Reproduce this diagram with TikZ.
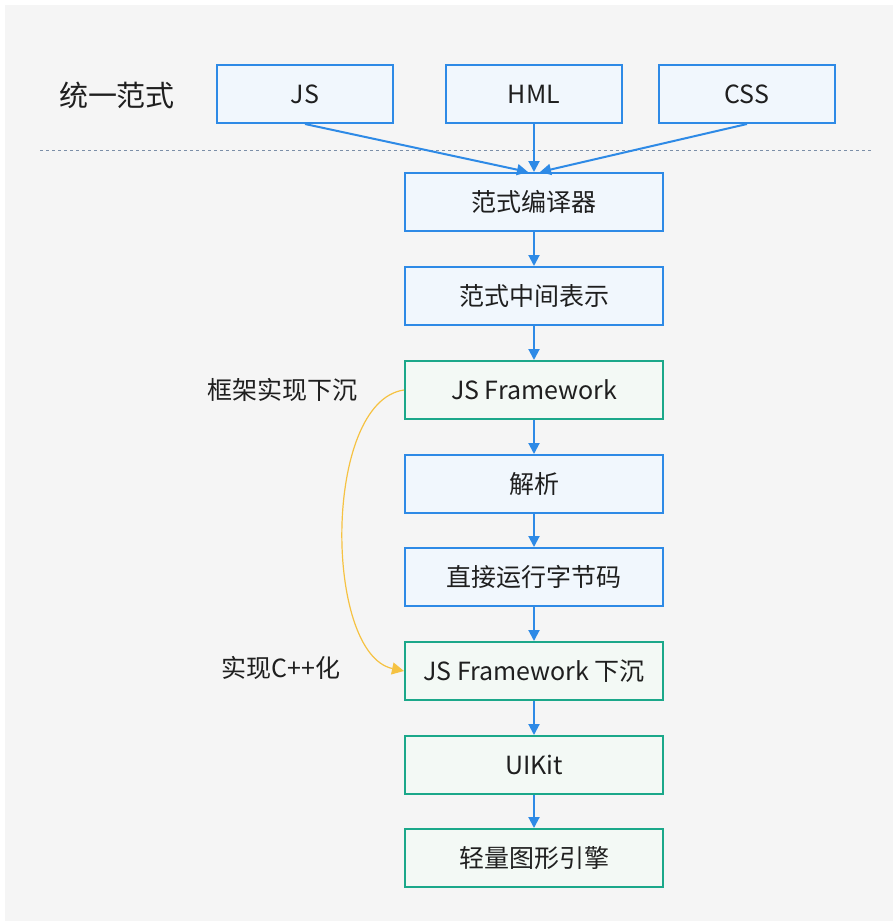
\documentclass[tikz,border=0pt]{standalone}
\usepackage{fontspec}
\setmainfont{Noto Sans CJK SC}
\usepackage{xcolor}
\usetikzlibrary{arrows.meta}
\definecolor{bgray}{HTML}{F5F5F5}
\definecolor{bline}{HTML}{2E8AE6}
\definecolor{bfill}{HTML}{F1F7FD}
\definecolor{gline}{HTML}{1BA88A}
\definecolor{gfill}{HTML}{F3F9F5}
\definecolor{curve}{HTML}{F5C242}
\definecolor{dline}{HTML}{7C8FA8}
\definecolor{txt}{HTML}{1F1F1F}

\begin{document}
\begin{tikzpicture}[x=1pt,y=-1pt,
    bluebox/.style={draw=bline,fill=bfill,line width=2pt,minimum width=258pt,minimum height=58pt,text=txt,font=\fontsize{25}{29}\selectfont},
    greenbox/.style={bluebox,draw=gline,fill=gfill},
    srcbox/.style={bluebox,minimum width=176pt},
    flow/.style={draw=bline,line width=2pt,-{Triangle[length=11pt,width=11pt]}},
    lbl/.style={text=txt,font=\fontsize{25}{29}\selectfont}]
    \useasboundingbox (0,0) rectangle (893,922);
    \fill[bgray] (5,5) rectangle (893,921);
    % top row
    \node[lbl,font=\fontsize{29}{33}\selectfont] (unify) at (117,95) {统一范式};
    \node[srcbox] (js) at (305,94) {JS};
    \node[srcbox] (hml) at (534,94) {HML};
    \node[srcbox] (css) at (747,94) {CSS};
    \draw[dline,line width=1pt,dash pattern=on 3pt off 3pt] (40,150) -- (872,150);
    % main column
    \node[bluebox] (comp) at (534,202) {范式编译器};
    \node[bluebox] (ir) at (534,296) {范式中间表示};
    \node[greenbox] (jsf) at (534,390) {JS Framework};
    \node[bluebox] (parse) at (534,484) {解析};
    \node[bluebox] (run) at (534,577) {直接运行字节码};
    \node[greenbox] (jsfd) at (534,671) {JS Framework 下沉};
    \node[greenbox] (uikit) at (534,765) {UIKit};
    \node[greenbox] (gfx) at (534,858) {轻量图形引擎};
    \node[lbl] (sink) at (282,390) {框架实现下沉};
    \node[lbl] (cpp) at (281,668) {实现C++化};
    % arrows
    \draw[flow] (js.south) -- ([xshift=-6pt]comp.north);
    \draw[flow] (hml.south) -- (comp.north);
    \draw[flow] (css.south) -- ([xshift=6pt]comp.north);
    \draw[flow] (comp) -- (ir);
    \draw[flow] (ir) -- (jsf);
    \draw[flow] (jsf) -- (parse);
    \draw[flow] (parse) -- (run);
    \draw[flow] (run) -- (jsfd);
    \draw[flow] (jsfd) -- (uikit);
    \draw[flow] (uikit) -- (gfx);
    \draw[curve,line width=1.2pt,-{Triangle[length=12pt,width=12pt]}] (jsf.west) to[out=188,in=168,looseness=0.75] (jsfd.west);
\end{tikzpicture}
\end{document}
